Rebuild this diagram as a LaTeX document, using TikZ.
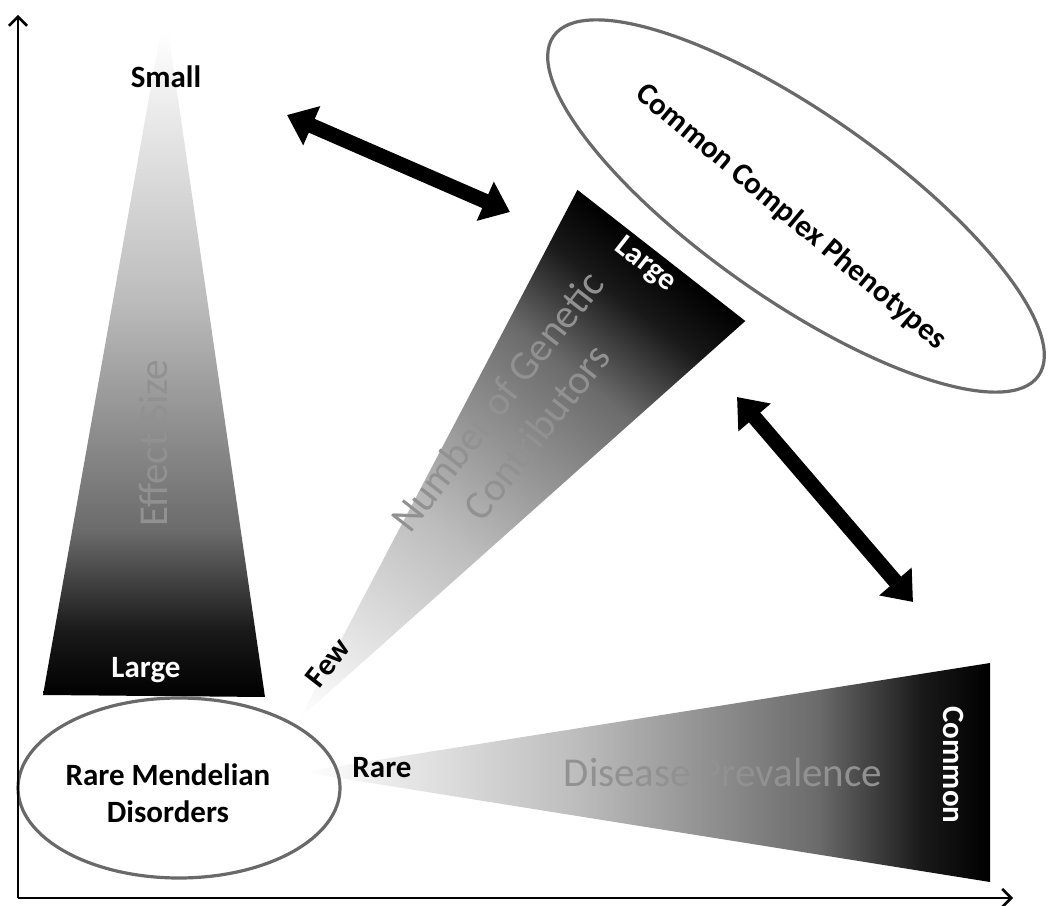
\documentclass[tikz,border=0pt]{standalone}
\usepackage{fontspec}
\setmainfont{Carlito}
\usetikzlibrary{arrows.meta,shapes.geometric}
\colorlet{gA}{white!74!black}
\colorlet{gB}{white!42!black}
\colorlet{gC}{white!10!black}
\definecolor{labelgray}{RGB}{145,145,145}
\definecolor{ringgray}{RGB}{105,105,105}
\pgfdeclarehorizontalshading{hgrad}{100bp}{color(0bp)=(white); color(25bp)=(white); color(45bp)=(gA); color(62.5bp)=(gB); color(70bp)=(gC); color(75bp)=(black); color(100bp)=(black)}
\pgfdeclareverticalshading{vgrad}{100bp}{color(0bp)=(black); color(25bp)=(black); color(30bp)=(gC); color(37.5bp)=(gB); color(55bp)=(gA); color(75bp)=(white); color(100bp)=(white)}
\tikzset{
  boldlbl/.style={font=\fontsize{31}{37}\selectfont\bfseries, inner sep=0pt},
  graylbl/.style={font=\fontsize{41}{50}\selectfont, text=labelgray, inner sep=0pt, align=center},
  ring/.style={draw=ringgray, line width=3.2pt, ellipse, inner sep=0pt},
  axisline/.style={line width=2.5pt, arrows={-Straight Barb[length=9pt,width=18pt]}},
  dblarrow/.style={line width=15pt, arrows={Triangle[width=41pt,length=27pt]-Triangle[width=41pt,length=27pt]}}
}
\begin{document}
\begin{tikzpicture}[x=1pt,y=1pt]
\useasboundingbox (0,0) rectangle (1052,905);
% Effect size wedge
\path[shading=vgrad] (43,210) -- (265,208) -- (168,875) -- (161,875) -- cycle;
% Disease prevalence wedge
\path[shading=hgrad] (302,133) -- (990,242) -- (990,23) -- cycle;
% Number of genetic contributors wedge
\begin{scope}[transform canvas={shift={(300pt,187pt)},rotate=52}]
  \path[shading=hgrad] (0,0) -- (587,106.5) -- (587,-106.5) -- cycle;
  \node[graylbl] (ngc) at (371,15) {Number of Genetic\\Contributors};
  \node[boldlbl, text=white, rotate=-90] (nlarge) at (570,7) {Large};
  \node[boldlbl] (few) at (61,12) {Few};
\end{scope}
% ellipses
\node[ring, minimum width=592pt, minimum height=186pt, rotate=-35] (ccp) at (796,699) {};
\node[ring, minimum width=322pt, minimum height=180pt] (rmd) at (179,117) {};
% labels
\node[boldlbl, rotate=-40] (ccptxt) at (791,688) {Common Complex Phenotypes};
\node[boldlbl, align=center] (rmdtxt) at (168,112) {Rare Mendelian\\Disorders};
\node[boldlbl, anchor=base] (small) at (166,817) {Small};
\node[boldlbl, anchor=base, text=white] (elarge) at (146,227) {Large};
\node[graylbl, rotate=90] (esize) at (153,462) {Effect Size};
\node[graylbl, anchor=base] (dprev) at (723,118) {Disease Prevalence};
\node[boldlbl, anchor=base] (rare) at (382,127) {Rare};
\node[boldlbl, text=white, rotate=-90] (common) at (954,140) {Common};
% double arrows
\coordinate (a1s) at (287,790);
\coordinate (a1e) at (510,693);
\coordinate (a2s) at (737,508);
\coordinate (a2e) at (913,303);
\draw[dblarrow] (a1s) -- (a1e);
\draw[dblarrow] (a2s) -- (a2e);
% axes
\coordinate (orig) at (18,7);
\coordinate (ytip) at (18,890);
\coordinate (xtip) at (1013,7);
\draw[axisline] (orig) -- (ytip);
\draw[axisline] (orig) -- (xtip);
\end{tikzpicture}
\end{document}
